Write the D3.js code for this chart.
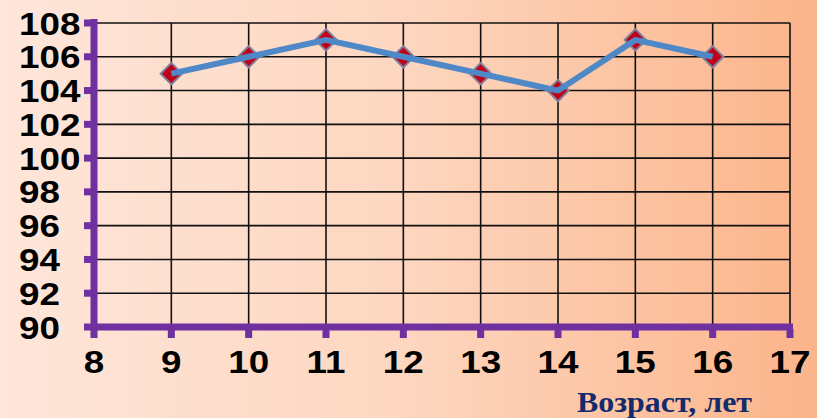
<!DOCTYPE html>
<html>
<head>
<meta charset="utf-8">
<script src="https://cdn.jsdelivr.net/npm/d3@7"></script>
<style>
  html, body { margin: 0; padding: 0; overflow: hidden; }
  svg { display: block; }
</style>
</head>
<body>
<script>
var width = 817;
var height = 418;

// ages (x) and values (y)
var ages = [9, 10, 11, 12, 13, 14, 15, 16];
var values = [105, 106, 107, 106, 105, 104, 107, 106];
var xTicks = [8, 9, 10, 11, 12, 13, 14, 15, 16, 17];
var yTicks = [90, 92, 94, 96, 98, 100, 102, 104, 106, 108];
var xTitle = 'Возраст, лет';

var purple = '#7030A0';
var numFont = 'Liberation Sans, Arial, sans-serif';

var x = d3.scaleLinear().domain([8, 17]).range([94, 790]);
var y = d3.scaleLinear().domain([90, 108]).range([327, 23]);

var svg = d3.select('body').append('svg')
  .attr('width', width).attr('height', height)
  .attr('viewBox', [0, 0, width, height].join(' '));

var grad = svg.append('defs').append('linearGradient').attr('id', 'bg')
  .attr('x1', '0%').attr('x2', '100%').attr('y1', '0%').attr('y2', '0%');
grad.append('stop').attr('offset', '0%').attr('stop-color', '#FEE6DA');
grad.append('stop').attr('offset', '50%').attr('stop-color', '#FDD6BF');
grad.append('stop').attr('offset', '100%').attr('stop-color', '#FCB48A');

svg.append('rect').attr('width', width).attr('height', height).attr('fill', 'url(#bg)');

// grid
svg.append('g').selectAll('line').data(yTicks.slice(1)).enter().append('line')
  .attr('x1', x(8)).attr('x2', x(17))
  .attr('y1', y).attr('y2', y)
  .attr('stroke', '#111').attr('stroke-width', 1.6);

svg.append('g').selectAll('line').data(xTicks.slice(1)).enter().append('line')
  .attr('x1', x).attr('x2', x)
  .attr('y1', y(90)).attr('y2', y(108))
  .attr('stroke', '#111').attr('stroke-width', 1.6);

// axes (purple, thick, square tick marks outside)
svg.append('line').attr('x1', x(8)).attr('x2', x(8)).attr('y1', y(108) - 4).attr('y2', y(90) + 4)
  .attr('stroke', purple).attr('stroke-width', 7);
svg.append('line').attr('x1', x(8) - 3).attr('x2', x(17) + 3).attr('y1', y(90)).attr('y2', y(90))
  .attr('stroke', purple).attr('stroke-width', 7);

svg.append('g').selectAll('rect').data(yTicks).enter().append('rect')
  .attr('x', x(8) - 10).attr('y', function(d) { return y(d) - 3.5; })
  .attr('width', 8).attr('height', 7).attr('fill', purple);

svg.append('g').selectAll('rect').data(xTicks).enter().append('rect')
  .attr('x', function(d) { return x(d) - 3.5; }).attr('y', y(90) + 2)
  .attr('width', 7).attr('height', 9).attr('fill', purple);

// tick labels (glyphs are a bit wide in the original)
svg.append('g').selectAll('text').data(yTicks).enter().append('text')
  .attr('transform', function(d) { return 'translate(19,' + y(d) + ') scale(1.15,1)'; })
  .attr('dy', '0.36em')
  .attr('font-family', numFont).attr('font-weight', 'bold')
  .attr('font-size', 32).attr('fill', '#000')
  .text(function(d) { return d; });

svg.append('g').selectAll('text').data(xTicks).enter().append('text')
  .attr('transform', function(d) { return 'translate(' + x(d) + ',373) scale(1.15,1)'; })
  .attr('text-anchor', 'middle')
  .attr('font-family', numFont).attr('font-weight', 'bold')
  .attr('font-size', 32).attr('fill', '#000')
  .text(function(d) { return d; });

// series
var pts = ages.map(function(a, i) { return [a, values[i]]; });
var line = d3.line().x(function(d) { return x(d[0]); }).y(function(d) { return y(d[1]); });

svg.append('g').selectAll('path').data(pts).enter().append('path')
  .attr('d', d3.symbol().type(d3.symbolSquare).size(230))
  .attr('transform', function(d) { return 'translate(' + x(d[0]) + ',' + y(d[1]) + ') rotate(45)'; })
  .attr('fill', '#C00018').attr('stroke', '#80809C').attr('stroke-width', 2);

svg.append('path').datum(pts).attr('d', line)
  .attr('fill', 'none').attr('stroke', '#4F88C6').attr('stroke-width', 6)
  .attr('stroke-linejoin', 'round');

// axis title
svg.append('text').attr('x', 577).attr('y', 412)
  .attr('textLength', 175).attr('lengthAdjust', 'spacingAndGlyphs')
  .attr('font-family', 'Liberation Serif, Times New Roman, serif').attr('font-weight', 'bold')
  .attr('font-size', 30).attr('fill', '#142C6C')
  .text(xTitle);
</script>
</body>
</html>
